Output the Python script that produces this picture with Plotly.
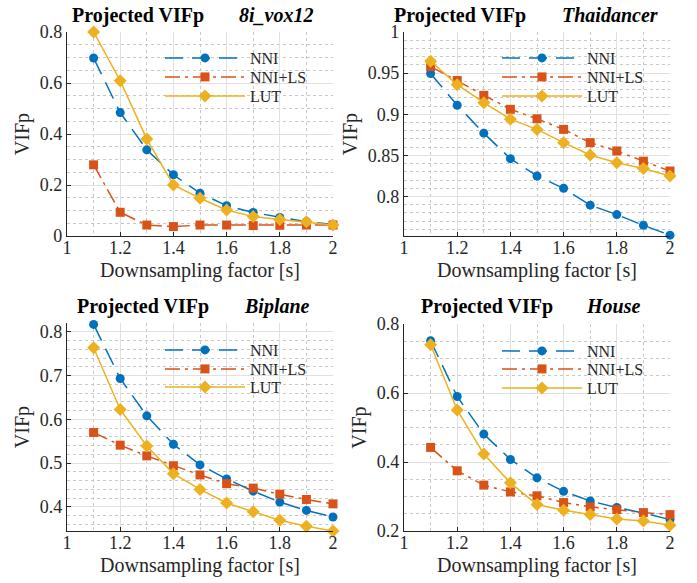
import plotly.graph_objects as go

W, H = 697, 583

# ---------------- data ----------------
downsampling = [1.1, 1.2, 1.3, 1.4, 1.5, 1.6, 1.7, 1.8, 1.9, 2.0]

vox_nni = [0.698, 0.484, 0.338, 0.240, 0.168, 0.119, 0.092, 0.073, 0.056, 0.045]
vox_nnils = [0.279, 0.093, 0.043, 0.037, 0.043, 0.043, 0.041, 0.042, 0.043, 0.043]
vox_lut = [0.800, 0.609, 0.380, 0.200, 0.148, 0.102, 0.076, 0.065, 0.056, 0.043]

thai_nni = [0.9495, 0.911, 0.877, 0.846, 0.825, 0.810, 0.7895, 0.778, 0.765, 0.753]
thai_nnils = [0.958, 0.941, 0.923, 0.906, 0.8945, 0.8816, 0.8655, 0.8554, 0.843, 0.831]
thai_lut = [0.9644, 0.936, 0.914, 0.894, 0.8816, 0.8655, 0.8505, 0.841, 0.834, 0.825]

biplane_nni = [0.8168, 0.6933, 0.608, 0.543, 0.496, 0.464, 0.436, 0.411, 0.392, 0.377]
biplane_nnils = [0.570, 0.541, 0.5166, 0.494, 0.473, 0.453, 0.443, 0.429, 0.417, 0.407]
biplane_lut = [0.7634, 0.6225, 0.539, 0.476, 0.440, 0.409, 0.389, 0.3695, 0.356, 0.345]

house_nni = [0.7515, 0.5897, 0.481, 0.4074, 0.354, 0.315, 0.287, 0.268, 0.252, 0.233]
house_nnils = [0.4423, 0.3745, 0.333, 0.3134, 0.302, 0.2824, 0.270, 0.262, 0.2533, 0.2475]
house_lut = [0.740, 0.551, 0.423, 0.3396, 0.2766, 0.260, 0.2475, 0.235, 0.229, 0.2165]

series_names = ["NNI", "NNI+LS", "LUT"]
dataset_names = ["8i_vox12", "Thaidancer", "Biplane", "House"]
x_ticks = [1, 1.2, 1.4, 1.6, 1.8, 2]

# ---------------- styling ----------------
FONT = "Liberation Serif"
TXT = "#262626"
C_NNI, C_LS, C_LUT = "#0072BD", "#D95319", "#EDB120"
GRID = "#e0e0e0"
MINOR = "#c8c8c8"


def px_x(p):
    return p / W


def px_y(p):
    return 1 - p / H


def fnt(size, color=TXT):
    return dict(family=FONT, size=size, color=color)


panels = [
    dict(data=(vox_nni, vox_nnils, vox_lut), name=dataset_names[0],
         yrange=[0, 0.8], ydtick=0.2, yminor=0.05,
         dx=(67, 333), dy=(32, 236), tx=(70, 237), ty=15, lx=160, rows=(58, 77, 96)),
    dict(data=(thai_nni, thai_nnils, thai_lut), name=dataset_names[1],
         yrange=[0.752, 1.0], ydtick=0.05, yminor=0.01,
         dx=(404, 670), dy=(32, 236), tx=(392, 560), ty=15, lx=497, rows=(58, 77, 96)),
    dict(data=(biplane_nni, biplane_nnils, biplane_lut), name=dataset_names[2],
         yrange=[0.345, 0.82], ydtick=0.1, yminor=0.02,
         dx=(67, 333), dy=(323, 531), tx=(75, 242), ty=306, lx=160, rows=(350, 369, 387)),
    dict(data=(house_nni, house_nnils, house_lut), name=dataset_names[3],
         yrange=[0.2, 0.8], ydtick=0.2, yminor=0.05,
         dx=(404, 670), dy=(324, 531), tx=(419, 584), ty=306, lx=497, rows=(351, 369, 388)),
]

styles = [
    dict(color=C_NNI, dash="18px,9px", symbol="circle", size=9),
    dict(color=C_LS, dash="15px,5px,3px,5px", symbol="square", size=9),
    dict(color=C_LUT, dash="solid", symbol="diamond", size=10),
]

fig = go.Figure()
layout = dict(
    template="none",
    width=W, height=H,
    margin=dict(l=0, r=0, t=0, b=0, pad=0),
    paper_bgcolor="white", plot_bgcolor="white",
    font=fnt(18),
    showlegend=True,
    annotations=[],
)

leg_idx = 0
for i, p in enumerate(panels):
    k = "" if i == 0 else str(i + 1)
    xa, ya = "x" + k, "y" + k
    for j, (vals, st) in enumerate(zip(p["data"], styles)):
        leg_idx += 1
        leg = "legend" if leg_idx == 1 else "legend" + str(leg_idx)
        fig.add_trace(go.Scatter(
            x=downsampling, y=vals, name=series_names[j],
            xaxis=xa, yaxis=ya, legend=leg, mode="lines+markers",
            line=dict(color=st["color"], width=1.5, dash=st["dash"]),
            marker=dict(symbol=st["symbol"], size=st["size"], color=st["color"],
                        line=dict(width=0)),
            cliponaxis=False,
        ))
        layout[leg] = dict(
            x=px_x(p["lx"]), y=px_y(p["rows"][j]), xanchor="left", yanchor="middle",
            bgcolor="rgba(0,0,0,0)", borderwidth=0, itemwidth=80,
            font=fnt(16), tracegroupgap=0,
        )
    layout["xaxis" + k] = dict(
        domain=[px_x(p["dx"][0]), px_x(p["dx"][1])], anchor=ya,
        range=[1, 2], tickvals=x_ticks, ticks="inside", ticklen=4,
        tickcolor=TXT, tickfont=fnt(18), automargin=False, ticklabelstandoff=-5,
        showline=True, linecolor=TXT, linewidth=1.2, mirror=False,
        showgrid=True, gridcolor=GRID, gridwidth=1, zeroline=False,
        minor=dict(dtick=0.1, tick0=1, showgrid=True, gridcolor=MINOR,
                   griddash="dot", gridwidth=1, ticks=""),
        title=dict(text="Downsampling factor [s]", font=fnt(20), standoff=6),
    )
    layout["yaxis" + k] = dict(
        domain=[px_y(p["dy"][1]), px_y(p["dy"][0])], anchor=xa,
        range=p["yrange"], dtick=p["ydtick"], tick0=0, ticks="inside", ticklen=4,
        tickcolor=TXT, tickfont=fnt(18), automargin=False,
        showline=True, linecolor=TXT, linewidth=1.2, mirror=False,
        showgrid=True, gridcolor=GRID, gridwidth=1, zeroline=False,
        minor=dict(dtick=p["yminor"], tick0=0, showgrid=True, gridcolor=MINOR,
                   griddash="dot", gridwidth=1, ticks=""),
        title=dict(text="VIFp", font=fnt(20), standoff=4),
    )
    layout["annotations"].append(dict(
        text="<b>Projected VIFp</b>", xref="paper", yref="paper",
        x=px_x(p["tx"][0]), y=px_y(p["ty"]), xanchor="left", yanchor="middle",
        showarrow=False, font=fnt(20, "black"),
    ))
    layout["annotations"].append(dict(
        text="<b><i>" + p["name"] + "</i></b>", xref="paper", yref="paper",
        x=px_x(p["tx"][1]), y=px_y(p["ty"]), xanchor="left", yanchor="middle",
        showarrow=False, font=fnt(20, "black"),
    ))

fig.update_layout(**layout)
fig.write_html("out.html", config={"displayModeBar": False},
               post_script="document.body.style.margin='0px';")
